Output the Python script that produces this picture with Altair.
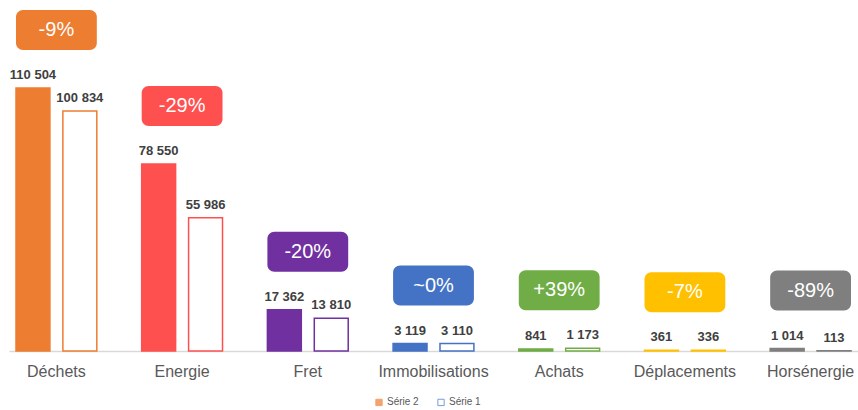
import altair as alt
import pandas as pd

categories = ["Déchets", "Energie", "Fret", "Immobilisations", "Achats", "Déplacements", "Horsénergie"]
serie2 = [110504, 78550, 17362, 3119, 841, 361, 1014]
serie1 = [100834, 55986, 13810, 3110, 1173, 336, 113]
changes = ["-9%", "-29%", "-20%", "~0%", "+39%", "-7%", "-89%"]
palette = ["#ED7D31", "#FF5050", "#7030A0", "#4472C4", "#70AD47", "#FFC000", "#7F7F7F"]
series_names = ["Série 2", "Série 1"]


def fmt(v):
    return f"{v:,}".replace(",", " ")


rows = []
for c, col, a, b in zip(categories, palette, serie2, serie1):
    rows.append(dict(cat=c, series="Série 2", value=a, label=fmt(a), fill=col, stroke=col))
    rows.append(dict(cat=c, series="Série 1", value=b, label=fmt(b), fill="white", stroke=col))
bars_df = pd.DataFrame(rows)

badge_df = pd.DataFrame(dict(
    cat=categories,
    change=changes,
    top=[max(a, b) for a, b in zip(serie2, serie1)],
    fill=palette,
))
legend_df = pd.DataFrame(dict(series=series_names))

x_scale = alt.Scale(domain=categories, paddingInner=0.357, paddingOuter=0.0556)
y_scale = alt.Scale(domain=[0, 147500])
xoff_scale = alt.Scale(domain=series_names, paddingInner=0.2766, paddingOuter=0)

x_axis = alt.Axis(title=None, labelAngle=0, ticks=False, domainColor="#D9D9D9",
                  domainWidth=1.5, labelFontSize=16, labelColor="#595959",
                  labelPadding=12, labelFont="Liberation Sans", labelOverlap=False)
x_enc = alt.X("cat:N", scale=x_scale, sort=categories, axis=x_axis)
xoff_enc = alt.XOffset("series:N", scale=xoff_scale, sort=series_names)
y_enc = alt.Y("value:Q", scale=y_scale, axis=None)

base = alt.Chart(bars_df)
bars = base.mark_bar(strokeWidth=1.5).encode(
    x=x_enc, xOffset=xoff_enc, y=y_enc,
    fill=alt.Fill("fill:N", scale=None),
    stroke=alt.Stroke("stroke:N", scale=None),
)
values = base.mark_text(font="Liberation Sans", fontSize=13, fontWeight="bold",
                        color="#404040", baseline="middle", dy=-13).encode(
    x=x_enc, xOffset=xoff_enc, y=y_enc, text="label:N"
)

badge_base = alt.Chart(badge_df)
badges = badge_base.mark_rect(cornerRadius=7, yOffset=-38, y2Offset=-78).encode(
    x=x_enc,
    y=alt.Y("top:Q", scale=y_scale, axis=None),
    y2="top:Q",
    fill=alt.Fill("fill:N", scale=None),
)
badge_text = badge_base.mark_text(font="Liberation Sans", fontSize=20, color="white",
                                  baseline="middle", dy=-58).encode(
    x=x_enc,
    y=alt.Y("top:Q", scale=y_scale, axis=None),
    text="change:N",
)

leg = alt.Legend(title=None, orient="none", legendX=365, legendY=397, direction="horizontal",
                 labelFontSize=10, labelColor="#595959", labelFont="Liberation Sans",
                 symbolSize=40, symbolStrokeWidth=1, columnPadding=16, labelOffset=3,
                 symbolType="square")
legend_layer = alt.Chart(legend_df).mark_point(shape="square", filled=True, size=40, strokeWidth=1).encode(
    fill=alt.Fill("series:N", scale=alt.Scale(domain=series_names, range=["#ED7D31", "white"]), legend=leg),
    stroke=alt.Stroke("series:N", scale=alt.Scale(domain=series_names, range=["#ED7D31", "#4472C4"]), legend=leg),
).transform_filter("false")

chart = alt.layer(bars, values, badges, badge_text, legend_layer).resolve_scale(
    fill="independent", stroke="independent"
).properties(
    width=849, height=351,
    autosize=alt.AutoSizeParams(type="none"),
    padding={"left": 9, "top": 0, "right": 0, "bottom": 57},
    background="white",
).configure_view(stroke=None)

chart.save("out.html", embed_options={"renderer": "svg", "actions": False})
